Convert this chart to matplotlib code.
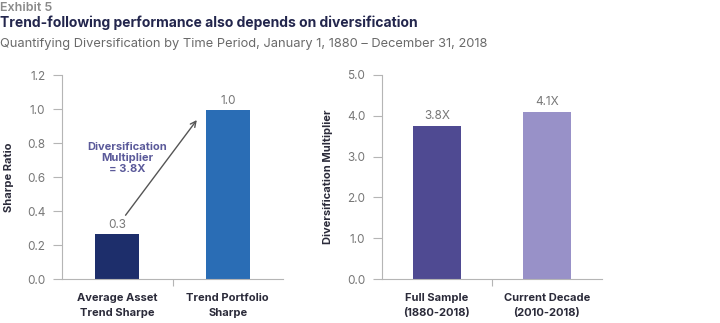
import matplotlib.pyplot as plt

plt.rcParams['font.family'] = ['Inter', 'DejaVu Sans']

# left panel
sharpe_labels = ['Average Asset\nTrend Sharpe', 'Trend Portfolio\nSharpe']
sharpe_values = [0.265, 0.995]
sharpe_text = ['0.3', '1.0']
sharpe_colors = ['#1d2e6b', '#2a6db5']
sharpe_ticks = [0.0, 0.2, 0.4, 0.6, 0.8, 1.0, 1.2]

# right panel
mult_labels = ['Full Sample\n(1880-2018)', 'Current Decade\n(2010-2018)']
mult_values = [3.76, 4.09]
mult_text = ['3.8X', '4.1X']
mult_colors = ['#4f4a92', '#9891c8']
mult_ticks = [0.0, 1.0, 2.0, 3.0, 4.0, 5.0]

W, H = 720, 323
fig = plt.figure(figsize=(W / 100, H / 100), dpi=100)

gray = '#777777'
spine_c = '#b5b5b5'
dark = '#2b2b3a'

fig.text(0.0, 1 - 8 / H, 'Exhibit 5', fontsize=9, fontweight='semibold', color='#8a8a8a',
         va='center', ha='left')
fig.text(0.0, 1 - 23 / H, 'Trend-following performance also depends on diversification',
         fontsize=10, fontweight='bold', color='#23264d', va='center', ha='left')
fig.text(0.0, 1 - 44 / H, 'Quantifying Diversification by Time Period, January 1, 1880 \u2013 December 31, 2018',
         fontsize=9.25, color='#6a6a6a', va='center', ha='left')


def style(ax, ticks, fmt):
    ax.set_xlim(-0.5, 1.5)
    ax.set_ylim(0, ticks[-1])
    ax.set_yticks(ticks)
    ax.set_yticklabels([fmt.format(t) for t in ticks])
    ax.spines['top'].set_visible(False)
    ax.spines['right'].set_visible(False)
    for s in ['left', 'bottom']:
        ax.spines[s].set_color(spine_c)
        ax.spines[s].set_linewidth(0.8)
    ax.tick_params(axis='y', length=6.5, width=0.8, color=spine_c, labelcolor=gray,
                   labelsize=8.5, pad=5.5)
    ax.set_xticks([0.5])
    ax.set_xticklabels([''])
    ax.tick_params(axis='x', length=5, width=0.8, color=spine_c)


ax1 = fig.add_axes([62 / W, 44 / H, 221 / W, 204 / H])
ax1.bar([0, 1], sharpe_values, width=0.4, color=sharpe_colors)
style(ax1, sharpe_ticks, '{:.1f}')
for i, (v, t) in enumerate(zip(sharpe_values, sharpe_text)):
    ax1.text(i, v + 0.015, t, ha='center', va='bottom', fontsize=8.5, color=gray)
for i, lab in enumerate(sharpe_labels):
    ax1.text(i, -0.085, lab, ha='center', va='top', fontsize=8, fontweight='bold',
             color=dark, linespacing=1.6)
ax1.set_ylabel('Sharpe Ratio', fontsize=8, fontweight='bold', color=dark)
ax1.yaxis.set_label_coords(-0.218, 0.5)
ax1.annotate('', xy=(0.72, 0.935), xytext=(0.075, 0.375),
             arrowprops=dict(arrowstyle='->', color='#555555', lw=1.0,
                             shrinkA=0, shrinkB=0))
ax1.text(0.09, 0.71, 'Diversification\nMultiplier\n= 3.8X', ha='center', va='center',
         fontsize=8, fontweight='bold', color='#5b5a9a', linespacing=1.1)

ax2 = fig.add_axes([382 / W, 44 / H, 220 / W, 204 / H])
ax2.bar([0, 1], mult_values, width=0.43, color=mult_colors)
style(ax2, mult_ticks, '{:.1f}')
for i, (v, t) in enumerate(zip(mult_values, mult_text)):
    ax2.text(i, v + 0.1, t, ha='center', va='bottom', fontsize=8.5, color=gray)
for i, lab in enumerate(mult_labels):
    ax2.text(i, -0.355, lab, ha='center', va='top', fontsize=8, fontweight='bold',
             color=dark, linespacing=1.6)
ax2.set_ylabel('Diversification Multiplier', fontsize=8, fontweight='bold', color=dark)
ax2.yaxis.set_label_coords(-0.223, 0.5)

fig.savefig('out.png', dpi=100)
